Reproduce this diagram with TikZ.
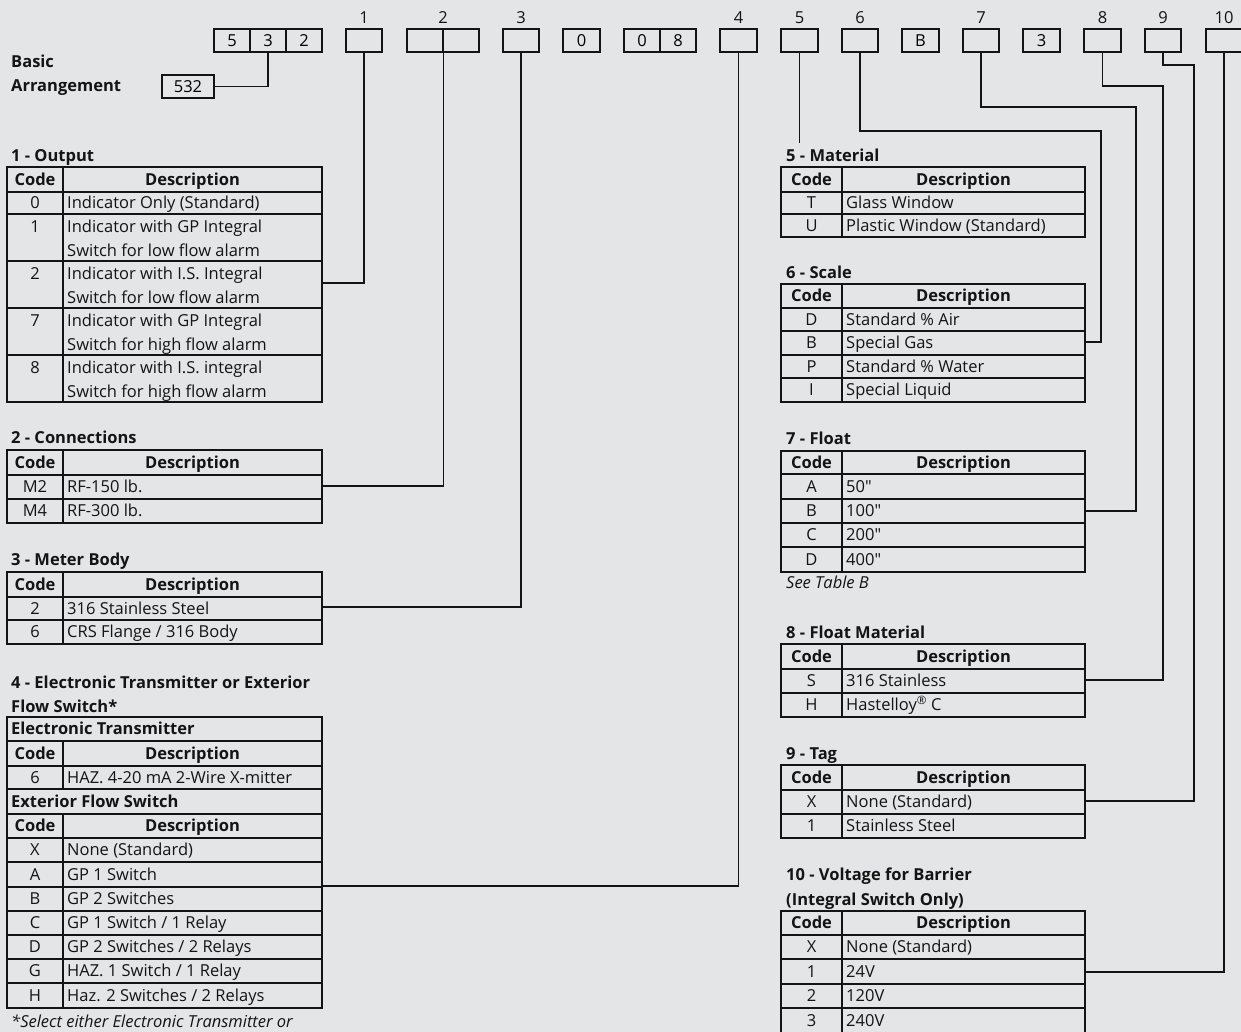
\documentclass[tikz,border=0pt]{standalone}
\usepackage{fontspec}
\setmainfont{Open Sans}[Ligatures=TeXOff]
\definecolor{bg}{RGB}{228,229,230}
\definecolor{ink}{RGB}{20,20,20}
\tikzset{
  tbl/.style={line width=1.6pt, draw=ink},
  conn/.style={line width=1.3pt, draw=ink},
  codebox/.style={draw=ink, line width=1.6pt, minimum width=36pt, minimum height=23pt, inner sep=0pt, font=\fontsize{16.5}{20}\selectfont},
  txt/.style={font=\fontsize{16.5}{20}\selectfont, text=ink, inner sep=0pt, text height=11.8pt, text depth=0pt},
  txtb/.style={txt, font=\fontsize{16.5}{20}\selectfont\bfseries},
  txti/.style={txt, font=\fontsize{16.5}{20}\selectfont\itshape},
}
\newcommand\THead[6]{%
  \draw[tbl] (#2,#5) rectangle (#4,#6) (#3,#5) -- (#3,#6);
  \node[txtb] (#1c) at ({(#2+#3)/2},{(#5+#6)/2}) {Code};
  \node[txtb] (#1d) at ({(#3+#4)/2},{(#5+#6)/2}) {Description};
}
\newcommand\TRow[8]{%
  \draw[tbl] (#2,#5) rectangle (#4,#6) (#3,#5) -- (#3,#6);
  \node[txt] (#1c) at ({(#2+#3)/2},{(#5+#6)/2}) {#7};
  \node[txt,anchor=west] (#1d) at ({#3+4},{(#5+#6)/2}) {#8};
}
\newcommand\TRowTwo[9]{%
  \draw[tbl] (#2,#5) rectangle (#4,#6) (#3,#5) -- (#3,#6);
  \node[txt] (#1c) at ({(#2+#3)/2},{#5+13}) {#7};
  \node[txt,anchor=west] (#1d) at ({#3+4},{#5+13}) {#8};
  \node[txt,anchor=west] (#1e) at ({#3+4},{#5+36.5}) {#9};
}
\newcommand\TSpan[6]{%
  \draw[tbl] (#2,#4) rectangle (#3,#5);
  \node[txtb,anchor=west] (#1) at ({#2+4},{(#4+#5)/2}) {#6};
}
\begin{document}
\begin{tikzpicture}[x=1pt,y=-1pt]
\fill[bg] (0,0) rectangle (1241,1032);
\useasboundingbox (0,0) rectangle (1241,1032);

% ---- top code boxes ----
\node[codebox] (c532a) at (232,40.5) {5};
\node[codebox] (c532b) at (268,40.5) {3};
\node[codebox] (c532c) at (304,40.5) {2};
\node[codebox] (b1) at (364,40.5) {};
\node[codebox] (b2a) at (425,40.5) {};
\node[codebox] (b2b) at (461,40.5) {};
\node[codebox] (b3) at (521,40.5) {};
\node[codebox,minimum width=37pt] (bz) at (581.5,40.5) {0};
\node[codebox] (bz1) at (642,40.5) {0};
\node[codebox] (bz2) at (678,40.5) {8};
\node[codebox,minimum width=37pt] (b4) at (738.5,40.5) {};
\node[codebox,minimum width=37pt] (b5) at (799.5,40.5) {};
\node[codebox] (b6) at (860,40.5) {};
\node[codebox,minimum width=37pt] (bB) at (920.5,40.5) {B};
\node[codebox] (b7) at (981,40.5) {};
\node[codebox,minimum width=37pt] (bT) at (1041.5,40.5) {3};
\node[codebox,minimum width=37pt] (b8) at (1102.5,40.5) {};
\node[codebox] (b9) at (1163,40.5) {};
\node[codebox] (b10) at (1224,40.5) {};

\node[txt] (n1) at (364,18) {1};
\node[txt] (n2) at (443,18) {2};
\node[txt] (n3) at (521,18) {3};
\node[txt] (n4) at (738.5,18) {4};
\node[txt] (n5) at (799.5,18) {5};
\node[txt] (n6) at (860,18) {6};
\node[txt] (n7) at (981,18) {7};
\node[txt] (n8) at (1102.5,18) {8};
\node[txt] (n9) at (1163,18) {9};
\node[txt] (n10) at (1224,18) {10};

% ---- basic arrangement ----
\node[txtb,anchor=west] (ba1) at (11,62) {Basic};
\node[txtb,anchor=west] (ba2) at (11,86) {Arrangement};
\node[codebox,minimum width=52pt] (ba) at (188,86.5) {532};
\draw[conn] (ba.east) -| (c532b.south);

% ---- left tables ----
\node[txtb,anchor=west] (t1t) at (11,156) {1 - Output};
\THead{t1h}{7}{63}{322}{167}{192}
\TRow{t1a}{7}{63}{322}{192}{214}{0}{Indicator Only (Standard)}
\TRowTwo{t1b}{7}{63}{322}{214}{261}{1}{Indicator with GP Integral}{Switch for low flow alarm}
\TRowTwo{t1c}{7}{63}{322}{261}{308}{2}{Indicator with I.S. Integral}{Switch for low flow alarm}
\TRowTwo{t1d}{7}{63}{322}{308}{355}{7}{Indicator with GP Integral}{Switch for high flow alarm}
\TRowTwo{t1e}{7}{63}{322}{355}{402}{8}{Indicator with I.S. integral}{Switch for high flow alarm}

\node[txtb,anchor=west] (t2t) at (11,438) {2 - Connections};
\THead{t2h}{7}{63}{322}{450}{475}
\TRow{t2a}{7}{63}{322}{475}{499}{M2}{RF-150 lb.}
\TRow{t2b}{7}{63}{322}{499}{523}{M4}{RF-300 lb.}

\node[txtb,anchor=west] (t3t) at (11,560) {3 - Meter Body};
\THead{t3h}{7}{63}{322}{572}{597}
\TRow{t3a}{7}{63}{322}{597}{620}{2}{316 Stainless Steel}
\TRow{t3b}{7}{63}{322}{620}{644}{6}{CRS Flange / 316 Body}

\node[txtb,anchor=west] (t4t) at (11,683) {4 - Electronic Transmitter or Exterior};
\node[txtb,anchor=west] (t4u) at (11,707) {Flow Switch*};
\TSpan{t4s1}{7}{322}{717}{741}{Electronic Transmitter}
\THead{t4h}{7}{63}{322}{741}{766}
\TRow{t4a}{7}{63}{322}{766}{789}{6}{HAZ. 4-20 mA 2-Wire X-mitter}
\TSpan{t4s2}{7}{322}{789}{814}{Exterior Flow Switch}
\THead{t4k}{7}{63}{322}{814}{838}
\TRow{t4b}{7}{63}{322}{838}{862}{X}{None (Standard)}
\TRow{t4c}{7}{63}{322}{862}{887}{A}{GP 1 Switch}
\TRow{t4d}{7}{63}{322}{887}{911}{B}{GP 2 Switches}
\TRow{t4e}{7}{63}{322}{911}{935}{C}{GP 1 Switch / 1 Relay}
\TRow{t4f}{7}{63}{322}{935}{959}{D}{GP 2 Switches / 2 Relays}
\TRow{t4g}{7}{63}{322}{959}{983}{G}{HAZ. 1 Switch / 1 Relay}
\TRow{t4i}{7}{63}{322}{983}{1008}{H}{Haz. 2 Switches / 2 Relays}
\node[txti,anchor=west] (t4n) at (11,1022) {*Select either Electronic Transmitter or};

% ---- right tables ----
\node[txtb,anchor=west] (t5t) at (786,156) {5 - Material};
\THead{t5h}{781}{842}{1085}{167}{192}
\TRow{t5a}{781}{842}{1085}{192}{214}{T}{Glass Window}
\TRow{t5b}{781}{842}{1085}{214}{237}{U}{Plastic Window (Standard)}

\node[txtb,anchor=west] (t6t) at (786,273) {6 - Scale};
\THead{t6h}{781}{842}{1085}{284}{308}
\TRow{t6a}{781}{842}{1085}{308}{331}{D}{Standard \% Air}
\TRow{t6b}{781}{842}{1085}{331}{355}{B}{Special Gas}
\TRow{t6c}{781}{842}{1085}{355}{378}{P}{Standard \% Water}
\TRow{t6d}{781}{842}{1085}{378}{402}{I}{Special Liquid}

\node[txtb,anchor=west] (t7t) at (786,439) {7 - Float};
\THead{t7h}{781}{842}{1085}{451}{474}
\TRow{t7a}{781}{842}{1085}{474}{499}{A}{50"}
\TRow{t7b}{781}{842}{1085}{499}{523}{B}{100"}
\TRow{t7c}{781}{842}{1085}{523}{547}{C}{200"}
\TRow{t7d}{781}{842}{1085}{547}{572}{D}{400"}
\node[txti,anchor=west] (t7n) at (786,583) {See Table B};

\node[txtb,anchor=west] (t8t) at (786,633) {8 - Float Material};
\THead{t8h}{781}{842}{1085}{644}{669}
\TRow{t8a}{781}{842}{1085}{669}{693}{S}{316 Stainless}
\TRow{t8b}{781}{842}{1085}{693}{717}{H}{Hastelloy\textsuperscript{®} C}

\node[txtb,anchor=west] (t9t) at (786,754) {9 - Tag};
\THead{t9h}{781}{842}{1085}{765}{790}
\TRow{t9a}{781}{842}{1085}{790}{814}{X}{None (Standard)}
\TRow{t9b}{781}{842}{1085}{814}{838}{1}{Stainless Steel}

\node[txtb,anchor=west] (t10t) at (786,875) {10 - Voltage for Barrier};
\node[txtb,anchor=west] (t10u) at (786,900) {(Integral Switch Only)};
\THead{t10h}{781}{842}{1085}{911}{935}
\TRow{t10a}{781}{842}{1085}{935}{959}{X}{None (Standard)}
\TRow{t10b}{781}{842}{1085}{959}{984}{1}{24V}
\TRow{t10c}{781}{842}{1085}{984}{1008}{2}{120V}
\TRow{t10d}{781}{842}{1085}{1008}{1033}{3}{240V}

% ---- connectors ----
\coordinate (e1) at (322,283);
\coordinate (e2) at (322,486);
\coordinate (e3) at (322,607);
\coordinate (e4) at (322,886);
\coordinate (e5) at (799.5,143);
\coordinate (j6) at (1101,131);
\coordinate (e6) at (1085,342);
\coordinate (j7) at (1136,107);
\coordinate (e7) at (1085,511);
\coordinate (j8) at (1163,86);
\coordinate (e8) at (1085,680);
\coordinate (j9) at (1194,65);
\coordinate (e9) at (1085,801);
\coordinate (e10) at (1085,972);

\draw[conn] (b1.south) |- (e1);
\draw[conn] (b2a.south east) |- (e2);
\draw[conn] (b3.south) |- (e3);
\draw[conn] (b4.south) |- (e4);
\draw[conn] (b5.south) -- (e5);
\draw[conn] (b6.south) |- (j6) |- (e6);
\draw[conn] (b7.south) |- (j7) |- (e7);
\draw[conn] (b8.south) |- (j8) |- (e8);
\draw[conn] (b9.south) |- (j9) |- (e9);
\draw[conn] (b10.south) |- (e10);
\end{tikzpicture}
\end{document}
